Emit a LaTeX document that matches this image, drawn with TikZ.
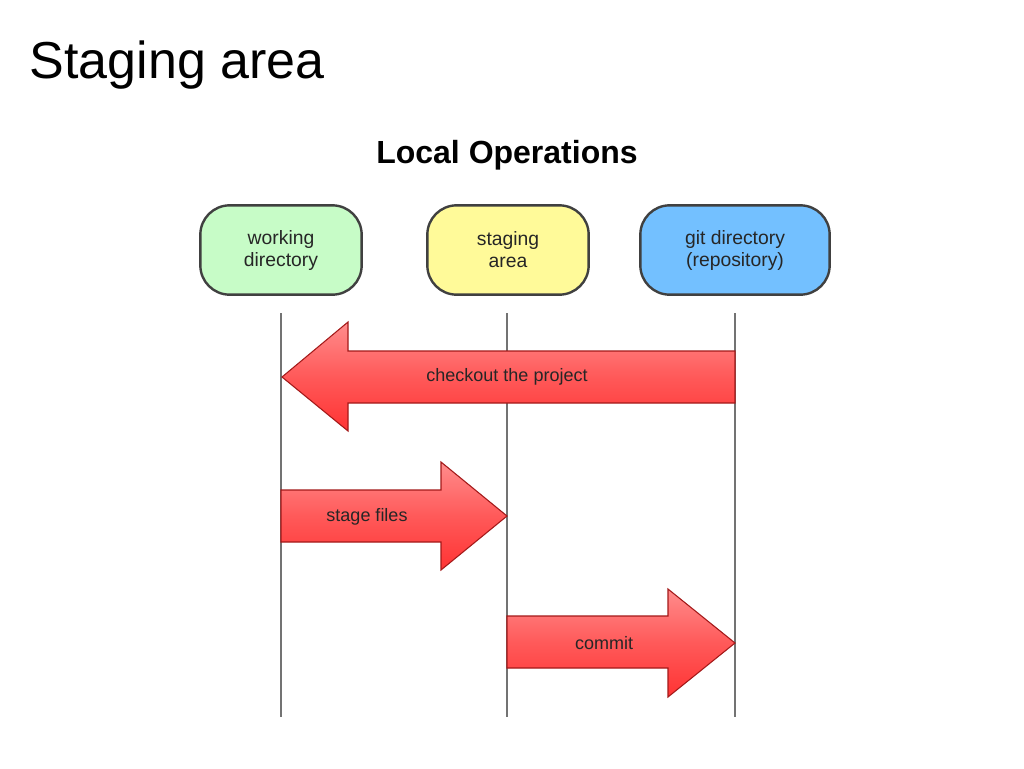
\documentclass[tikz,border=0pt]{standalone}
\usepackage{fontspec}
\setmainfont{Liberation Sans}
\begin{document}
\begin{tikzpicture}[x=0.75pt,y=-0.75pt,
  stagebox/.style={draw=black!75,line width=1.8pt,rounded corners=22pt,minimum width=121pt,minimum height=67pt,align=center,font=\fontsize{14.5}{16.5}\selectfont,text=black!85},
  lifeline/.style={draw=black!55,line width=1.8pt},
  bigarrow/.style={draw=red!60!black!90,line width=0.8pt,top color=red!45!white,bottom color=red!80!white,middle color=red!65!white},
  alabel/.style={font=\fontsize{13.5}{16}\selectfont,text=black!85}]
\useasboundingbox (0,0) rectangle (1024,768);
\node[anchor=west,font=\fontsize{39}{44}\selectfont] (title) at (25,65) {Staging area};
\node[font=\bfseries\fontsize{24}{28}\selectfont] (sub) at (507,155) {Local Operations};
\node[stagebox,fill=green!25!white!90!black!40!green!30!white] (wd) at (281,250) {working\\directory};
\node[stagebox,fill=yellow!40!white] (sa) at (508,250) {staging\\area};
\node[stagebox,fill=blue!45!cyan!55!white,minimum width=142pt] (gd) at (735,250) {git directory\\(repository)};
\coordinate (wdb) at (281,313); \coordinate (wde) at (281,717);
\coordinate (sab) at (507,313); \coordinate (sae) at (507,717);
\coordinate (gdb) at (735,313); \coordinate (gde) at (735,717);
\draw[lifeline] (wdb) -- (wde);
\draw[lifeline] (sab) -- (sae);
\draw[lifeline] (gdb) -- (gde);
% checkout
\draw[bigarrow] (735,351) -- (348,351) -- (348,322) -- (282,377) -- (348,431) -- (348,403) -- (735,403) -- cycle;
\node[alabel] (l1) at (507,377) {checkout the project};
% stage files
\draw[bigarrow] (281,490) -- (441,490) -- (441,462) -- (507,516) -- (441,570) -- (441,542) -- (281,542) -- cycle;
\node[alabel] (l2) at (367,517) {stage files};
% commit
\draw[bigarrow] (507,616) -- (668,616) -- (668,589) -- (735,643) -- (668,697) -- (668,668) -- (507,668) -- cycle;
\node[alabel] (l3) at (604,643) {commit};
\end{tikzpicture}
\end{document}
